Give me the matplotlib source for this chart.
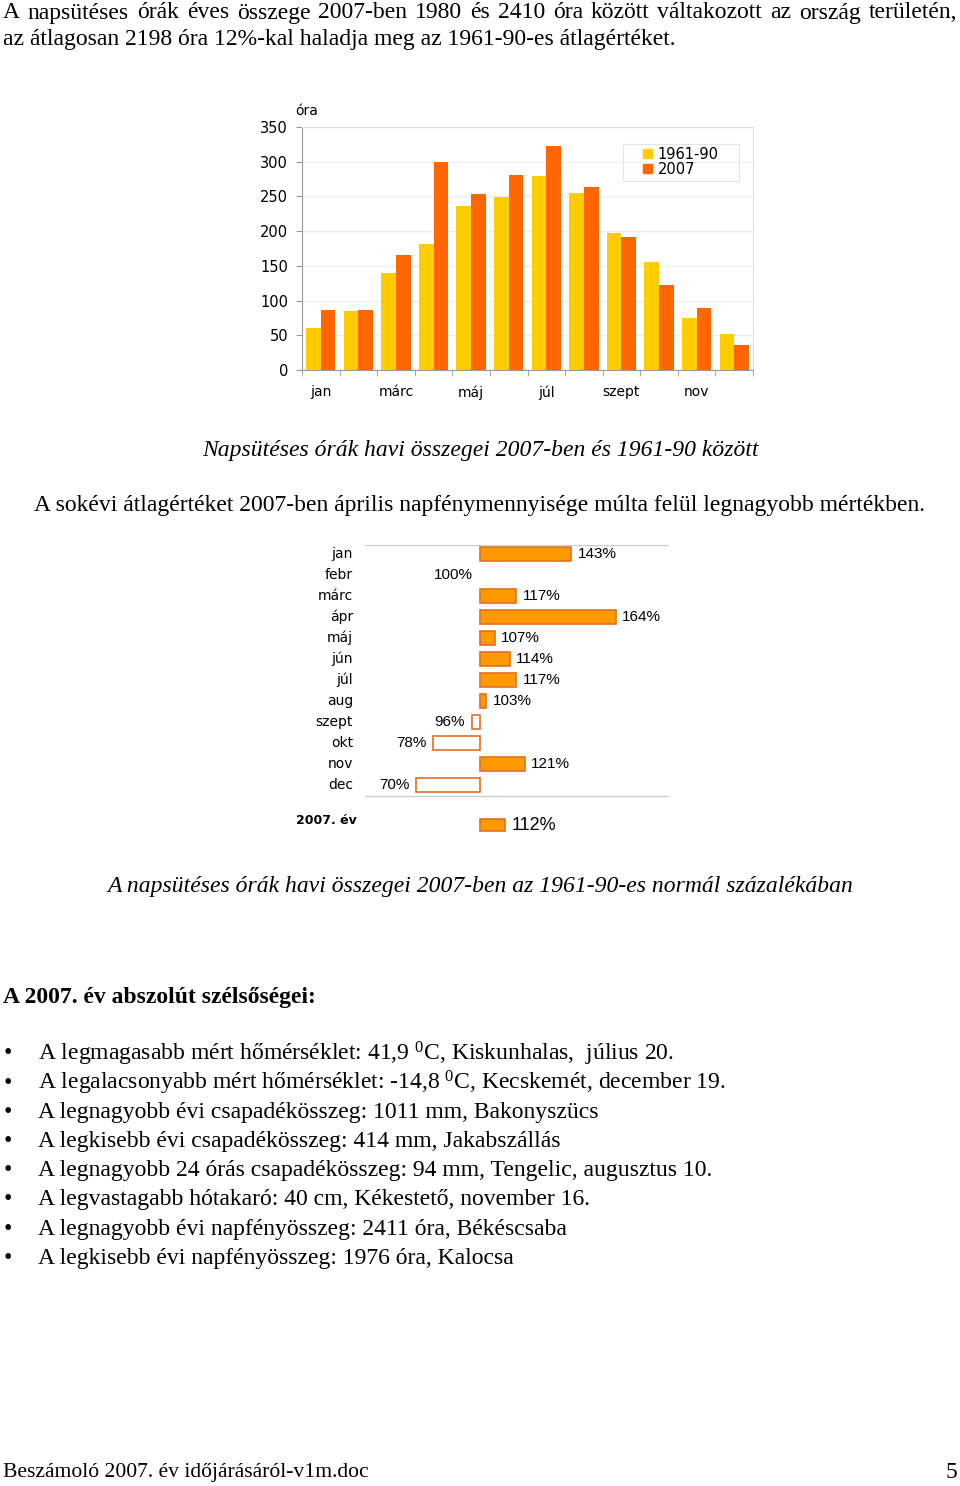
import matplotlib
matplotlib.use('Agg')
import matplotlib.pyplot as plt
from matplotlib.patches import Patch, Rectangle

W, H = 960, 1486
plt.rcParams['mathtext.fontset'] = 'custom'
plt.rcParams['mathtext.rm'] = 'Liberation Serif'

months = ['jan', 'febr', 'márc', 'ápr', 'máj', 'jún', 'júl', 'aug', 'szept', 'okt', 'nov', 'dec']
xlabels = ['jan', '', 'márc', '', 'máj', '', 'júl', '', 'szept', '', 'nov', '']
normal = [60, 85, 140, 182, 236, 249, 279, 255, 197, 156, 75, 52]      # 1961-90
y2007 = [86, 86, 165, 300, 253, 281, 323, 264, 191, 122, 90, 36]
pct = [143, 100, 117, 164, 107, 114, 117, 103, 96, 78, 121, 70]
pct_year = 112

serif = 'Liberation Serif'
yel, ora = '#FFCC00', '#FF6600'
fill2, edge2 = '#FF9900', '#E07020'

fig = plt.figure(figsize=(W / 100, H / 100), dpi=100)

def fx(x): return x / W
def fy(y): return 1 - y / H

def justify(line, y, x0, x1, **kw):
    words = line.split()
    r = fig.canvas.get_renderer()
    ts = [fig.text(0, 0, w, ha='left', va='center', **kw) for w in words]
    ws = [t.get_window_extent(r).width for t in ts]
    gap = (x1 - x0 - sum(ws)) / (len(words) - 1)
    x = x0
    for t, w in zip(ts, ws):
        t.set_position((fx(x), fy(y)))
        x += w + gap

txt = dict(family=serif, fontsize=17, color='black')

justify('A napsütéses órák éves összege 2007-ben 1980 és 2410 óra között váltakozott az ország területén,',
        13, 3, 957, **txt)
fig.text(fx(3), fy(40), 'az átlagosan 2198 óra 12%-kal haladja meg az 1961-90-es átlagértéket.',
         ha='left', va='center', **txt)

# ---- chart 1: monthly totals
ax = fig.add_axes([fx(302), fy(370), (753 - 302) / W, (370 - 127) / H])
idx = list(range(12))
bw = 0.39
ax.bar([i - bw / 2 for i in idx], normal, bw, color=yel, label='1961-90', zorder=3)
ax.bar([i + bw / 2 for i in idx], y2007, bw, color=ora, label='2007', zorder=3)
ax.set_xlim(-0.5, 11.5)
ax.set_ylim(0, 350)
ax.set_yticks(range(0, 351, 50))
ax.set_xticks(idx)
ax.set_xticklabels(xlabels)
ax.set_xticks([i - 0.5 for i in range(13)], minor=True)
ax.tick_params(axis='x', which='major', length=0, pad=11, labelsize=10)
ax.tick_params(axis='x', which='minor', length=4, color='#999999')
ax.tick_params(axis='y', length=4, color='#999999', pad=6, labelsize=10.5)
ax.grid(axis='y', color='#eeeeee', lw=1, zorder=0)
for s in ['top', 'right']:
    ax.spines[s].set_color('#dddddd')
for s in ['left', 'bottom']:
    ax.spines[s].set_color('#999999')
ax.text((295 - 302) / 451, 1.065, 'óra', transform=ax.transAxes, fontsize=10, ha='left', va='center')

fig.add_artist(Rectangle((fx(623), fy(181)), (739 - 623) / W, (181 - 144) / H,
                         transform=fig.transFigure, fill=False, edgecolor='#e5e5e5', lw=0.8))
ax.legend(handles=[Patch(color=yel, label='1961-90'), Patch(color=ora, label='2007')],
          loc='upper left', bbox_to_anchor=(fx(643), fy(147)), bbox_transform=fig.transFigure,
          fontsize=10.5, handlelength=0.6, handleheight=0.6, handletextpad=0.4,
          labelspacing=-0.02, borderpad=0, borderaxespad=0, frameon=False)

fig.text(fx(480), fy(450), 'Napsütéses órák havi összegei 2007-ben és 1961-90 között',
         ha='center', va='center', style='italic', **txt)
fig.text(fx(480), fy(505), 'A sokévi átlagértéket 2007-ben április napfénymennyisége múlta felül legnagyobb mértékben.',
         ha='center', va='center', **txt)

# ---- chart 2: percent of normal
ppx = 2.12
ax2 = fig.add_axes([fx(365), fy(845), (669 - 365) / W, (845 - 545) / H])
ax2.set_xlim(100 - (480 - 365) / ppx, 100 + (669 - 480) / ppx)
ytop = -9 / 21
ybot = (845 - 554) / 21
ax2.set_ylim(ybot, ytop)
ax2.axis('off')
ax2.axhline(ytop, color='#cccccc', lw=1)
ax2.axhline(11.5 + 0.02, color='#cccccc', lw=1)
yr_row = (825 - 554) / 21
bh = 0.64
for i, (m, p) in enumerate(zip(months, pct)):
    fc = fill2 if p > 100 else 'white'
    if p != 100:
        ax2.barh(i, p - 100, left=100, height=bh, color=fc, edgecolor=edge2, lw=1.2)
    if p > 100:
        ax2.text(p + 3, i, f'{p}%', ha='left', va='center', family='Liberation Sans', fontsize=11)
    else:
        ax2.text(p - 3.3, i, f'{p}%', ha='right', va='center', family='Liberation Sans', fontsize=11)
    ax2.text(100 - (480 - 353) / ppx, i, m, ha='right', va='center', fontsize=10, clip_on=False)
ax2.barh(yr_row, pct_year - 100, left=100, height=bh * 0.95, color=fill2, edgecolor=edge2, lw=1.2)
ax2.text(pct_year + 3, yr_row, f'{pct_year}%', ha='left', va='center', family='Liberation Sans', fontsize=13)
ax2.text(100 - (480 - 357) / ppx, (820 - 554) / 21, '2007. év', ha='right', va='center',
         fontsize=9, fontweight='bold', clip_on=False)

fig.text(fx(480), fy(887), 'A napsütéses órák havi összegei 2007-ben az 1961-90-es normál százalékában',
         ha='center', va='center', style='italic', **txt)

fig.text(fx(3), fy(997), 'A 2007. év abszolút szélsőségei:', ha='left', va='center',
         fontweight='bold', **txt)

bullets = [
    r'A legmagasabb mért hőmérséklet: 41,9 $\mathregular{^0}$C, Kiskunhalas,  július 20.',
    r'A legalacsonyabb mért hőmérséklet: -14,8 $\mathregular{^0}$C, Kecskemét, december 19.',
    'A legnagyobb évi csapadékösszeg: 1011 mm, Bakonyszücs',
    'A legkisebb évi csapadékösszeg: 414 mm, Jakabszállás',
    'A legnagyobb 24 órás csapadékösszeg: 94 mm, Tengelic, augusztus 10.',
    'A legvastagabb hótakaró: 40 cm, Kékestető, november 16.',
    'A legnagyobb évi napfényösszeg: 2411 óra, Békéscsaba',
    'A legkisebb évi napfényösszeg: 1976 óra, Kalocsa',
]
for k, b in enumerate(bullets):
    y = 1054 + k * 29.2
    fig.text(fx(8), fy(y), '•', ha='center', va='center', **txt)
    fig.text(fx(38), fy(y), b, ha='left', va='center', **txt)

fig.text(fx(3), fy(1473), 'Beszámoló 2007. év időjárásáról-v1m.doc', ha='left', va='center',
         family=serif, fontsize=15.6)
fig.text(fx(957), fy(1473), '5', ha='right', va='center', **txt)

fig.savefig('out.png', dpi=100)
